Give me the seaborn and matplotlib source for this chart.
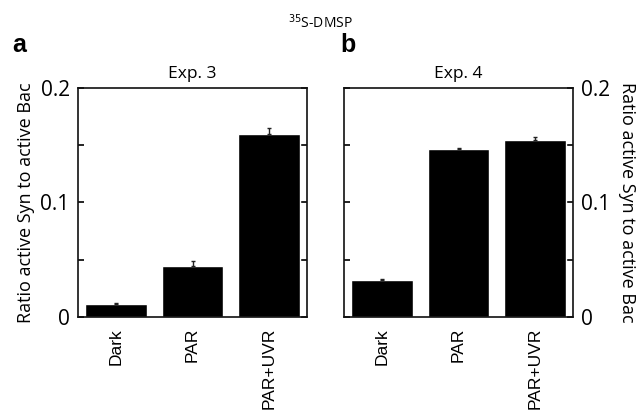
import numpy as np
import pandas as pd
import matplotlib
matplotlib.use("Agg")
import matplotlib.pyplot as plt
import seaborn as sns

# data
treatments = ["Dark", "PAR", "PAR+UVR"]
exp3_ratio = [0.0115, 0.0445, 0.160]
exp3_err = [0.001, 0.004, 0.005]
exp4_ratio = [0.032, 0.147, 0.155]
exp4_err = [0.001, 0.001, 0.002]
yticks = [0, 0.1, 0.2]
ytick_labels = ["0", "0.1", "0.2"]

sns.set_style("ticks")
plt.rcParams["font.family"] = ["Open Sans", "DejaVu Sans"]
plt.rcParams["text.color"] = "black"
plt.rcParams["axes.labelcolor"] = "black"
plt.rcParams["xtick.color"] = "black"
plt.rcParams["ytick.color"] = "black"

fig = plt.figure(figsize=(6.39, 4.16), dpi=100)
W, H = 639, 416
ax1 = fig.add_axes([78 / W, 1 - 317 / H, 229 / W, 229 / H])
ax2 = fig.add_axes([344 / W, 1 - 317 / H, 229 / W, 229 / H])

panels = [(ax1, exp3_ratio, exp3_err, "Exp. 3"), (ax2, exp4_ratio, exp4_err, "Exp. 4")]
for ax, vals, errs, title in panels:
    df = pd.DataFrame({"treatment": treatments, "ratio": vals})
    sns.barplot(data=df, x="treatment", y="ratio", color="black", width=0.81,
                saturation=1, errorbar=None, ax=ax)
    ax.errorbar(np.arange(len(treatments)), vals, yerr=[np.zeros(3), errs],
                fmt="none", ecolor="#222222", elinewidth=1, capsize=1.5, capthick=1)
    ax.set_xlim(-0.5, 2.5)
    ax.set_ylim(0, 0.2)
    ax.set_xlabel("")
    ax.set_ylabel("")
    for s in ax.spines.values():
        s.set_visible(True)
        s.set_linewidth(1.2)
        s.set_color("#111111")
    ax.tick_params(axis="x", length=0, pad=8)
    ax.set_xticks(range(3))
    ax.set_xticklabels(treatments, rotation=90, fontsize=12.5, family=["Liberation Sans"])
    ax.set_yticks([0.05, 0.15], minor=True)
    ax.set_yticks(yticks)
    ax.tick_params(axis="y", which="both", direction="in", length=4, width=1.2,
                   labelsize=15, pad=6)
    ax.set_title(title, fontsize=12.5, pad=7)

ax1.tick_params(axis="y", which="both", left=True, right=True)
ax1.set_yticklabels(ytick_labels)
ax1.set_ylabel("Ratio active Syn to active Bac", fontsize=13, labelpad=4)

ax2.tick_params(axis="y", which="both", left=True, right=True,
                labelleft=False, labelright=True)
ax2.set_yticklabels(ytick_labels)
ax2.yaxis.set_label_position("right")
ax2.set_ylabel("Ratio active Syn to active Bac", fontsize=13, rotation=270, labelpad=18)

fig.text(12 / W, 1 - 52 / H, "a", fontsize=18, fontweight="bold", family=["Liberation Sans"])
fig.text(340 / W, 1 - 52 / H, "b", fontsize=18, fontweight="bold", family=["Liberation Sans"])
fig.text(320 / W, 1 - 23 / H, "$^{35}$S-DMSP", fontsize=10, ha="center", va="center")

fig.savefig("out.png", dpi=100)
